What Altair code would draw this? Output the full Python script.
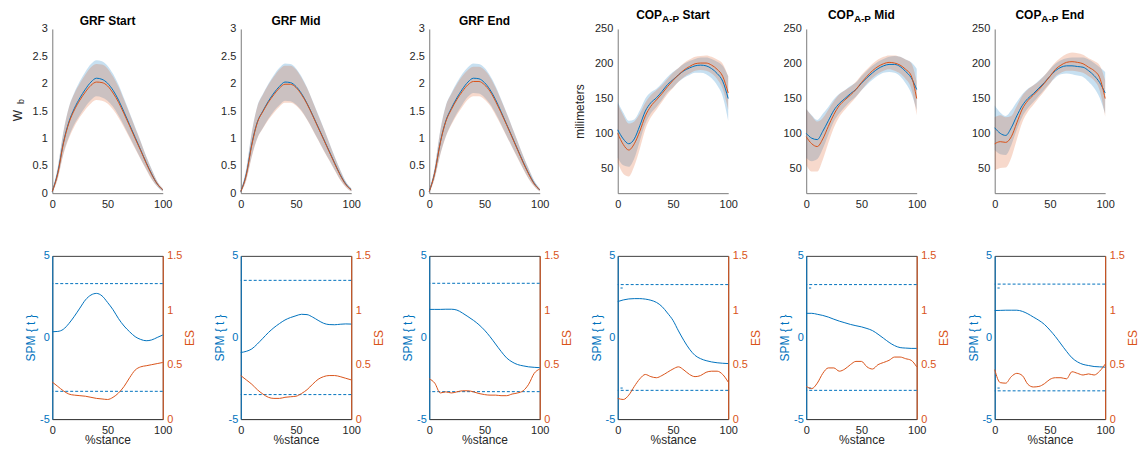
import altair as alt
import pandas as pd

# ---------------- data ----------------
X = [0, 5, 10, 15, 20, 25, 30, 35, 40, 45, 50, 55, 60, 65, 70, 75, 80, 85, 90, 95, 100]

PANEL_TITLES = ["GRF Start", "GRF Mid", "GRF End", "Start", "Mid", "End"]

# top row: mean and SD of the two groups (blue / orange)
GRF_START_BLUE_MEAN = [0.03, 0.38, 0.92, 1.30, 1.55, 1.74, 1.90, 2.03, 2.10, 2.08, 2.01, 1.88, 1.70, 1.48, 1.25, 1.02, 0.79, 0.56, 0.35, 0.17, 0.06]
GRF_START_ORANGE_MEAN = [0.03, 0.36, 0.90, 1.28, 1.52, 1.70, 1.85, 1.97, 2.03, 2.02, 1.96, 1.83, 1.66, 1.45, 1.23, 1.00, 0.78, 0.55, 0.34, 0.17, 0.06]
GRF_START_BLUE_SD = [0.02, 0.10, 0.20, 0.27, 0.29, 0.31, 0.32, 0.33, 0.33, 0.33, 0.32, 0.30, 0.28, 0.25, 0.22, 0.19, 0.16, 0.12, 0.09, 0.05, 0.03]
GRF_START_ORANGE_SD = [0.02, 0.10, 0.20, 0.28, 0.30, 0.31, 0.32, 0.33, 0.33, 0.33, 0.32, 0.30, 0.28, 0.25, 0.22, 0.19, 0.16, 0.12, 0.09, 0.05, 0.03]

GRF_MID_BLUE_MEAN = [0.03, 0.35, 0.90, 1.30, 1.50, 1.68, 1.83, 1.95, 2.03, 2.02, 1.95, 1.82, 1.64, 1.43, 1.21, 0.99, 0.77, 0.55, 0.34, 0.17, 0.06]
GRF_MID_ORANGE_MEAN = [0.03, 0.33, 0.88, 1.29, 1.49, 1.66, 1.80, 1.92, 1.99, 1.99, 1.93, 1.80, 1.63, 1.42, 1.20, 0.98, 0.76, 0.54, 0.33, 0.16, 0.06]
GRF_MID_BLUE_SD = [0.02, 0.10, 0.22, 0.29, 0.31, 0.32, 0.33, 0.34, 0.34, 0.34, 0.33, 0.31, 0.29, 0.26, 0.23, 0.20, 0.16, 0.12, 0.09, 0.05, 0.03]
GRF_MID_ORANGE_SD = [0.02, 0.10, 0.22, 0.29, 0.31, 0.32, 0.33, 0.34, 0.34, 0.34, 0.33, 0.31, 0.29, 0.26, 0.23, 0.20, 0.16, 0.12, 0.09, 0.05, 0.03]

GRF_END_BLUE_MEAN = [0.03, 0.38, 0.93, 1.32, 1.55, 1.74, 1.90, 2.03, 2.10, 2.09, 2.02, 1.89, 1.71, 1.49, 1.26, 1.03, 0.80, 0.57, 0.36, 0.18, 0.06]
GRF_END_ORANGE_MEAN = [0.03, 0.37, 0.92, 1.31, 1.53, 1.71, 1.86, 1.98, 2.04, 2.04, 1.98, 1.86, 1.68, 1.47, 1.25, 1.02, 0.79, 0.56, 0.35, 0.17, 0.06]
GRF_END_BLUE_SD = [0.02, 0.10, 0.22, 0.28, 0.28, 0.28, 0.28, 0.27, 0.27, 0.27, 0.27, 0.26, 0.25, 0.23, 0.21, 0.18, 0.15, 0.12, 0.09, 0.05, 0.03]
GRF_END_ORANGE_SD = [0.02, 0.10, 0.22, 0.28, 0.28, 0.28, 0.28, 0.27, 0.27, 0.27, 0.27, 0.26, 0.25, 0.23, 0.21, 0.18, 0.15, 0.12, 0.09, 0.05, 0.03]

COP_START_BLUE_MEAN = [105, 92, 85, 92, 111, 132, 144, 151, 160, 170, 177, 184, 190, 194, 197, 198, 197, 193, 186, 175, 150]
COP_START_ORANGE_MEAN = [100, 84, 76, 85, 103, 125, 139, 148, 157, 167, 176, 184, 191, 196, 200, 201, 201, 198, 192, 182, 158]
COP_START_BLUE_SD = [40, 38, 33, 28, 22, 18, 15, 13, 12, 11, 11, 10, 10, 10, 10, 11, 12, 14, 17, 22, 32]
COP_START_ORANGE_SD = [42, 42, 38, 32, 25, 19, 16, 14, 12, 11, 11, 10, 10, 10, 10, 10, 11, 12, 14, 18, 24]

COP_MID_BLUE_MEAN = [100, 93, 91, 103, 118, 133, 143, 150, 157, 163, 172, 180, 187, 193, 197, 199, 199, 196, 189, 180, 163]
COP_MID_ORANGE_MEAN = [95, 85, 81, 92, 110, 127, 140, 148, 155, 163, 173, 182, 190, 196, 200, 202, 201, 198, 192, 183, 150]
COP_MID_BLUE_SD = [35, 33, 28, 25, 20, 16, 14, 12, 11, 10, 10, 10, 10, 10, 10, 11, 12, 14, 17, 22, 30]
COP_MID_ORANGE_SD = [40, 40, 36, 30, 24, 19, 16, 14, 12, 11, 11, 10, 10, 10, 10, 10, 11, 12, 14, 18, 24]

COP_END_BLUE_MEAN = [108, 100, 97, 108, 125, 140, 150, 157, 165, 173, 182, 190, 195, 197, 197, 196, 195, 190, 183, 173, 158]
COP_END_ORANGE_MEAN = [85, 88, 87, 95, 115, 135, 147, 155, 163, 172, 182, 192, 198, 202, 203, 202, 200, 195, 190, 180, 150]
COP_END_BLUE_SD = [32, 30, 28, 25, 20, 16, 14, 12, 11, 10, 10, 10, 10, 11, 12, 13, 14, 16, 18, 22, 30]
COP_END_ORANGE_SD = [38, 38, 36, 30, 24, 19, 16, 14, 12, 11, 11, 10, 11, 12, 13, 13, 13, 13, 14, 18, 26]

# bottom row: SPM{t} and effect size
GRF_START_SPM = [0.35, 0.37, 0.50, 0.85, 1.30, 1.80, 2.30, 2.60, 2.70, 2.55, 2.15, 1.70, 1.15, 0.70, 0.35, 0.05, -0.12, -0.20, -0.15, 0.00, 0.15]
GRF_START_ES = [0.34, 0.30, 0.26, 0.23, 0.22, 0.215, 0.21, 0.20, 0.19, 0.185, 0.18, 0.20, 0.24, 0.30, 0.38, 0.45, 0.48, 0.49, 0.50, 0.51, 0.52]
GRF_MID_SPM = [-0.92, -0.85, -0.70, -0.40, -0.05, 0.30, 0.60, 0.85, 1.07, 1.22, 1.33, 1.42, 1.40, 1.25, 1.05, 0.87, 0.79, 0.78, 0.81, 0.83, 0.82]
GRF_MID_ES = [0.40, 0.36, 0.32, 0.27, 0.23, 0.20, 0.19, 0.19, 0.20, 0.205, 0.21, 0.235, 0.27, 0.32, 0.365, 0.39, 0.40, 0.40, 0.39, 0.375, 0.36]
GRF_END_SPM = [1.72, 1.72, 1.72, 1.73, 1.73, 1.68, 1.50, 1.28, 1.05, 0.78, 0.45, 0.05, -0.40, -0.85, -1.25, -1.50, -1.66, -1.74, -1.80, -1.83, -1.85]
GRF_END_ES = [0.37, 0.33, 0.24, 0.25, 0.24, 0.25, 0.26, 0.26, 0.25, 0.235, 0.225, 0.22, 0.22, 0.215, 0.215, 0.23, 0.24, 0.26, 0.32, 0.42, 0.46]
COP_START_SPM = [2.20, 2.30, 2.36, 2.38, 2.38, 2.35, 2.28, 2.15, 1.90, 1.50, 1.05, 0.40, -0.20, -0.72, -1.10, -1.30, -1.42, -1.50, -1.55, -1.58, -1.60]
COP_START_ES = [0.19, 0.18, 0.22, 0.30, 0.37, 0.41, 0.39, 0.38, 0.40, 0.43, 0.46, 0.48, 0.45, 0.41, 0.39, 0.40, 0.43, 0.44, 0.44, 0.41, 0.34]
COP_MID_SPM = [1.48, 1.48, 1.42, 1.35, 1.25, 1.12, 1.00, 0.90, 0.80, 0.72, 0.65, 0.55, 0.42, 0.20, -0.05, -0.30, -0.50, -0.62, -0.65, -0.67, -0.67]
COP_MID_ES = [0.30, 0.28, 0.33, 0.42, 0.47, 0.47, 0.44, 0.46, 0.50, 0.53, 0.53, 0.48, 0.46, 0.50, 0.52, 0.54, 0.57, 0.57, 0.555, 0.54, 0.48]
COP_END_SPM = [1.65, 1.66, 1.67, 1.67, 1.67, 1.60, 1.45, 1.25, 1.05, 0.80, 0.45, 0.05, -0.40, -0.85, -1.25, -1.50, -1.65, -1.72, -1.78, -1.80, -1.82]
COP_END_ES = [0.455, 0.335, 0.33, 0.39, 0.42, 0.40, 0.32, 0.295, 0.30, 0.325, 0.365, 0.38, 0.38, 0.37, 0.435, 0.42, 0.405, 0.415, 0.405, 0.44, 0.505]

THRESHOLDS = [3.30, 3.50, 3.32, 3.24, 3.24, 3.27]
DASH_X = [2.5, 4.5]
DASH_Y = [3.03, -3.10]   # short marks near the start of the COP panels

GRF_TICKS = [0, 0.5, 1, 1.5, 2, 2.5, 3]
COP_TICKS = [50, 100, 150, 200, 250]
SPM_TICKS = [-5, 0, 5]
ES_TICKS = [0, 0.5, 1, 1.5]
X_TICKS = [0, 50, 100]

# ---------------- styling ----------------
BLUE = "#0072BD"
ORANGE = "#D95319"
FONT = "Liberation Sans"
TXT = "#262626"
AX_TOP = "#7a7a7a"
AX_BOT = "#404040"
W = 111
H_TOP, H_BOT = 165, 164
BAND_OPACITY = 0.22
NUM = "datum.value + ''"

BOLD = {"C": 722, "O": 778, "P": 667, "A": 722, "-": 333, " ": 278, "S": 667,
        "t": 333, "a": 556, "r": 389, "M": 833, "i": 278, "d": 611, "E": 667, "n": 611}


def bw(s, size):
    return sum(BOLD[c] for c in s) * size / 1000.0


XS = alt.Scale(domain=[0, 100], nice=False, zero=False)


def axis_kw(color, **extra):
    kw = dict(grid=False, ticks=False, domainColor=color, domainWidth=1,
              labelFont=FONT, labelFontSize=11, labelColor=TXT, labelPadding=5,
              labelExpr=NUM, labelFlush=False, labelOverlap=False,
              titleFont=FONT, titleFontSize=12, titleFontWeight="normal", titleColor=TXT)
    kw.update(extra)
    return kw


def text_layer(txt, x, y, size, bold=True, angle=0, align="left", baseline="alphabetic", color="black"):
    kw = dict(font=FONT, fontSize=size, align=align, baseline=baseline, color=color)
    if bold:
        kw["fontWeight"] = "bold"
    if angle:
        kw["angle"] = angle
    return alt.Chart(pd.DataFrame({"t": [txt]})).mark_text(**kw).encode(
        x=alt.value(x), y=alt.value(y), text="t:N")


def top_panel(idx, bm, bsd, om, osd):
    is_grf = idx < 3
    df = pd.DataFrame({"x": X, "bm": bm, "bs": bsd, "om": om, "os": osd})
    df["blo"] = df["bm"] - df["bs"]
    df["bhi"] = df["bm"] + df["bs"]
    df["olo"] = df["om"] - df["os"]
    df["ohi"] = df["om"] + df["os"]
    dom = [0, 3] if is_grf else [14, 250]
    ys = alt.Scale(domain=dom, nice=False, zero=False)
    yextra = dict(values=GRF_TICKS if is_grf else COP_TICKS)
    if idx == 3:
        yextra["title"] = "milimeters"
        yextra["titlePadding"] = 8
    else:
        yextra["title"] = None
    yax = alt.Axis(**axis_kw(AX_TOP, **yextra))
    xax = alt.Axis(**axis_kw(AX_TOP, values=X_TICKS, title=None))
    base = alt.Chart(df).encode(x=alt.X("x:Q", scale=XS, axis=xax))
    layers = [
        base.mark_area(color=BLUE, opacity=BAND_OPACITY, interpolate="monotone").encode(
            y=alt.Y("blo:Q", scale=ys, axis=yax), y2="bhi:Q"),
        base.mark_area(color=ORANGE, opacity=BAND_OPACITY, interpolate="monotone").encode(
            y=alt.Y("olo:Q", scale=ys, axis=yax), y2="ohi:Q"),
        base.mark_line(color=BLUE, strokeWidth=1, interpolate="monotone").encode(
            y=alt.Y("bm:Q", scale=ys, axis=yax)),
        base.mark_line(color=ORANGE, strokeWidth=1, interpolate="monotone").encode(
            y=alt.Y("om:Q", scale=ys, axis=yax)),
    ]
    if is_grf:
        layers.append(text_layer(PANEL_TITLES[idx], W / 2, -4, 12, align="center"))
    else:
        word = PANEL_TITLES[idx]
        total = bw("COP", 12) + bw("A-P", 10) + bw(" " + word, 12)
        x0 = W / 2 - total / 2
        layers.append(text_layer("COP", x0, -10, 12))
        layers.append(text_layer("A-P", x0 + bw("COP", 12), -7, 10))
        layers.append(text_layer(word, x0 + bw("COP", 12) + bw("A-P", 10) + bw(" ", 12), -10, 12))
    if idx == 0:
        layers.append(text_layer("W", -34.5, 87, 12, bold=False, angle=270, align="center", baseline="middle", color=TXT))
        layers.append(text_layer("b", -31, 73, 9, bold=False, angle=270, align="center", baseline="middle", color=TXT))
    return alt.layer(*layers).properties(width=W, height=H_TOP)


def bottom_panel(idx, spm, es):
    df = pd.DataFrame({"x": X, "spm": spm, "es": es})
    sy = alt.Scale(domain=[-5, 5], nice=False, zero=False)
    ey = alt.Scale(domain=[0, 1.5], nice=False, zero=False)
    xax = alt.Axis(**axis_kw(AX_BOT, values=X_TICKS, title="%stance", labelPadding=5, titlePadding=0))
    spm_ax = alt.Axis(**axis_kw(BLUE, values=SPM_TICKS, orient="left", title="SPM { t }",
                                labelColor=BLUE, titleColor=BLUE, labelPadding=3, titlePadding=2))
    es_ax = alt.Axis(**axis_kw(ORANGE, values=ES_TICKS, orient="right", title="ES",
                               labelColor=ORANGE, titleColor=ORANGE, labelPadding=4, titlePadding=3,
                               titleAngle=270, titleBaseline="top"))
    x_enc = alt.X("x:Q", scale=XS, axis=xax)
    spm_line = alt.Chart(df).mark_line(color=BLUE, strokeWidth=1, interpolate="monotone").encode(
        x=x_enc, y=alt.Y("spm:Q", scale=sy, axis=spm_ax))
    thr = THRESHOLDS[idx]
    thr_rule = alt.Chart(pd.DataFrame({"thr": [thr, -thr]})).mark_rule(
        color=BLUE, strokeWidth=1, strokeDash=[3, 2]).encode(y=alt.Y("thr:Q", scale=sy, axis=spm_ax))
    inner_layers = [spm_line, thr_rule]
    if idx >= 3:
        ddf = pd.DataFrame({"x0": [DASH_X[0]] * 2, "x1": [DASH_X[1]] * 2, "y": DASH_Y})
        inner_layers.append(alt.Chart(ddf).mark_rule(color=BLUE, strokeWidth=1).encode(
            x=alt.X("x0:Q", scale=XS, axis=xax), x2="x1:Q", y=alt.Y("y:Q", scale=sy, axis=spm_ax)))
    inner = alt.layer(*inner_layers)
    es_line = alt.Chart(df).mark_line(color=ORANGE, strokeWidth=1, interpolate="monotone").encode(
        x=x_enc, y=alt.Y("es:Q", scale=ey, axis=es_ax))
    return alt.layer(inner, es_line).resolve_scale(y="independent").properties(
        width=W, height=H_BOT, view=alt.ViewBackground(stroke=AX_BOT, strokeWidth=1))


tops = [
    top_panel(0, GRF_START_BLUE_MEAN, GRF_START_BLUE_SD, GRF_START_ORANGE_MEAN, GRF_START_ORANGE_SD),
    top_panel(1, GRF_MID_BLUE_MEAN, GRF_MID_BLUE_SD, GRF_MID_ORANGE_MEAN, GRF_MID_ORANGE_SD),
    top_panel(2, GRF_END_BLUE_MEAN, GRF_END_BLUE_SD, GRF_END_ORANGE_MEAN, GRF_END_ORANGE_SD),
    top_panel(3, COP_START_BLUE_MEAN, COP_START_BLUE_SD, COP_START_ORANGE_MEAN, COP_START_ORANGE_SD),
    top_panel(4, COP_MID_BLUE_MEAN, COP_MID_BLUE_SD, COP_MID_ORANGE_MEAN, COP_MID_ORANGE_SD),
    top_panel(5, COP_END_BLUE_MEAN, COP_END_BLUE_SD, COP_END_ORANGE_MEAN, COP_END_ORANGE_SD),
]
bots = [
    bottom_panel(0, GRF_START_SPM, GRF_START_ES),
    bottom_panel(1, GRF_MID_SPM, GRF_MID_ES),
    bottom_panel(2, GRF_END_SPM, GRF_END_ES),
    bottom_panel(3, COP_START_SPM, COP_START_ES),
    bottom_panel(4, COP_MID_SPM, COP_MID_ES),
    bottom_panel(5, COP_END_SPM, COP_END_ES),
]

chart = alt.concat(
    *tops, *bots, columns=6, spacing={"row": 63, "column": 78.4}, bounds="flush",
    padding={"left": 3.5, "top": 0, "right": 0, "bottom": 0},
).configure(font=FONT).configure_view(strokeWidth=0)

chart.save("out.html", embed_options={"renderer": "svg", "actions": False})
